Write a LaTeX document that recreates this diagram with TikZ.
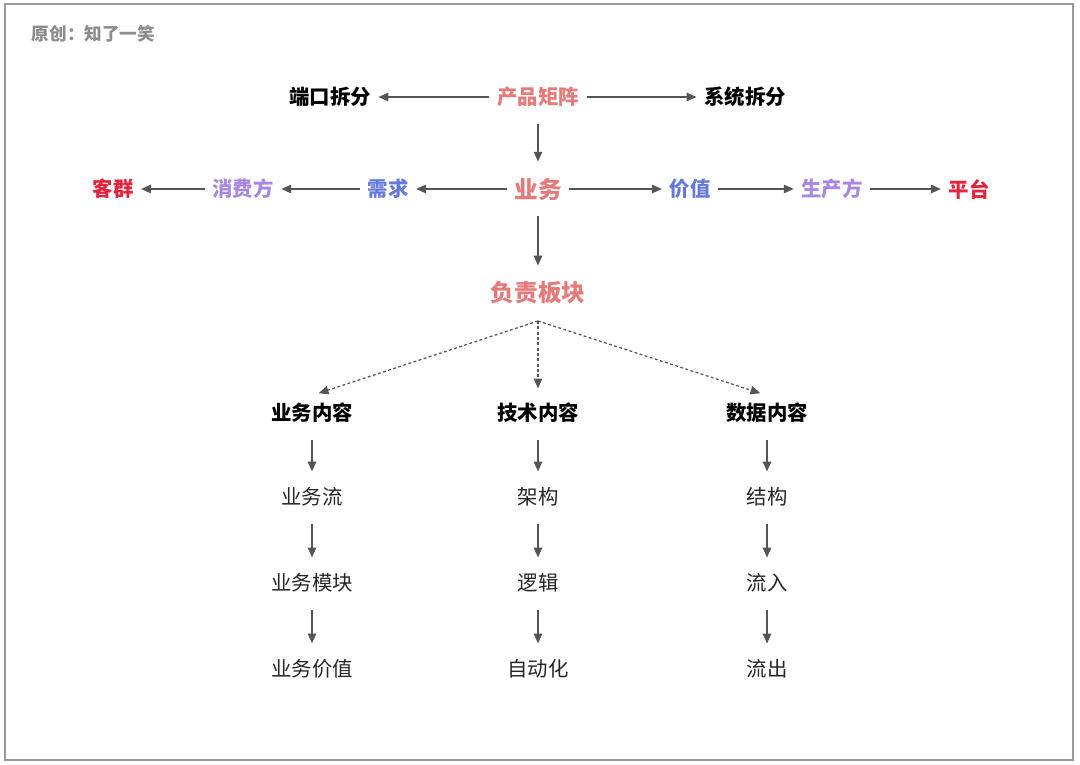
\documentclass[tikz,border=0pt]{standalone}
\usepackage{fontspec}
\setmainfont{Noto Sans CJK SC}
\usetikzlibrary{arrows.meta}
\definecolor{pinkred}{HTML}{E57A7A}
\definecolor{bluevi}{HTML}{6479DB}
\definecolor{lilac}{HTML}{A688E2}
\definecolor{redbr}{HTML}{E2243C}
\definecolor{arrgray}{HTML}{555555}
\tikzset{
  lbl/.style={inner sep=0pt, outer sep=5.5pt, font=\bfseries\fontsize{14.5pt}{16pt}\selectfont},
  big/.style={inner sep=0pt, outer sep=5.5pt, font=\bfseries\fontsize{16.8pt}{18pt}\selectfont, text=pinkred},
  itm/.style={inner sep=0pt, outer sep=5.5pt, font=\fontsize{14.5pt}{16pt}\selectfont, text=black!85},
  arr/.style={draw=arrgray, line width=0.9pt, -{Triangle[length=7pt,width=6pt]}},
  varr/.style={arr, shorten <=7pt, shorten >=6pt},
  darr/.style={arr, dash pattern=on 2pt off 1.8pt, shorten >=5pt}
}
\begin{document}
\begin{tikzpicture}[x=0.025cm, y=-0.025cm]
	\useasboundingbox (0,0) rectangle (1080,764);
	\fill[white] (0,0) rectangle (1080,764);
	\draw[gray!80, line width=1pt] (5,4) rectangle (1073,760);
	\node[font=\bfseries\fontsize{12.5pt}{14pt}\selectfont, text=gray!90, anchor=west] (tag) at (27,34) {原创：知了一笑};
	% top row
	\node[lbl] (dk) at (330,97) {端口拆分};
	\node[lbl, text=pinkred] (cp) at (538,97) {产品矩阵};
	\node[lbl] (xt) at (745,97) {系统拆分};
	\draw[arr] (cp) -- (dk);
	\draw[arr] (cp) -- (xt);
	% business row
	\node[big] (yw) at (538,189) {业务};
	\node[lbl, text=bluevi] (xq) at (388,189) {需求};
	\node[lbl, text=lilac] (xf) at (243,189) {消费方};
	\node[lbl, text=redbr] (kq) at (113,189) {客群};
	\node[lbl, text=bluevi] (jz) at (690,189) {价值};
	\node[lbl, text=lilac] (sc) at (832,189) {生产方};
	\node[lbl, text=redbr] (pt) at (969,189) {平台};
	\draw[varr] (cp) -- (yw);
	\draw[arr] (yw) -- (xq);
	\draw[arr] (xq) -- (xf);
	\draw[arr] (xf) -- (kq);
	\draw[arr] (yw) -- (jz);
	\draw[arr] (jz) -- (sc);
	\draw[arr] (sc) -- (pt);
	% blocks
	\node[big] (fz) at (538,293) {负责板块};
	\draw[varr, shorten <=6pt] (yw) -- (fz);
	\coordinate (fzb) at (538,321);
	\node[lbl] (ywnr) at (312,413) {业务内容};
	\node[lbl] (jsnr) at (538,413) {技术内容};
	\node[lbl] (sjnr) at (767,413) {数据内容};
	\draw[darr] (fzb) -- (ywnr.north);
	\draw[darr] (fzb) -- (jsnr.north);
	\draw[darr] (fzb) -- (sjnr.north);
	% columns
	\node[itm] (a1) at (312,497) {业务流};
	\node[itm] (a2) at (312,583) {业务模块};
	\node[itm] (a3) at (312,669) {业务价值};
	\node[itm] (b1) at (538,497) {架构};
	\node[itm] (b2) at (538,583) {逻辑};
	\node[itm] (b3) at (538,669) {自动化};
	\node[itm] (c1) at (767,497) {结构};
	\node[itm] (c2) at (767,583) {流入};
	\node[itm] (c3) at (767,669) {流出};
	\draw[varr] (ywnr) -- (a1);
	\draw[varr] (a1) -- (a2);
	\draw[varr] (a2) -- (a3);
	\draw[varr] (jsnr) -- (b1);
	\draw[varr] (b1) -- (b2);
	\draw[varr] (b2) -- (b3);
	\draw[varr] (sjnr) -- (c1);
	\draw[varr] (c1) -- (c2);
	\draw[varr] (c2) -- (c3);
\end{tikzpicture}
\end{document}
